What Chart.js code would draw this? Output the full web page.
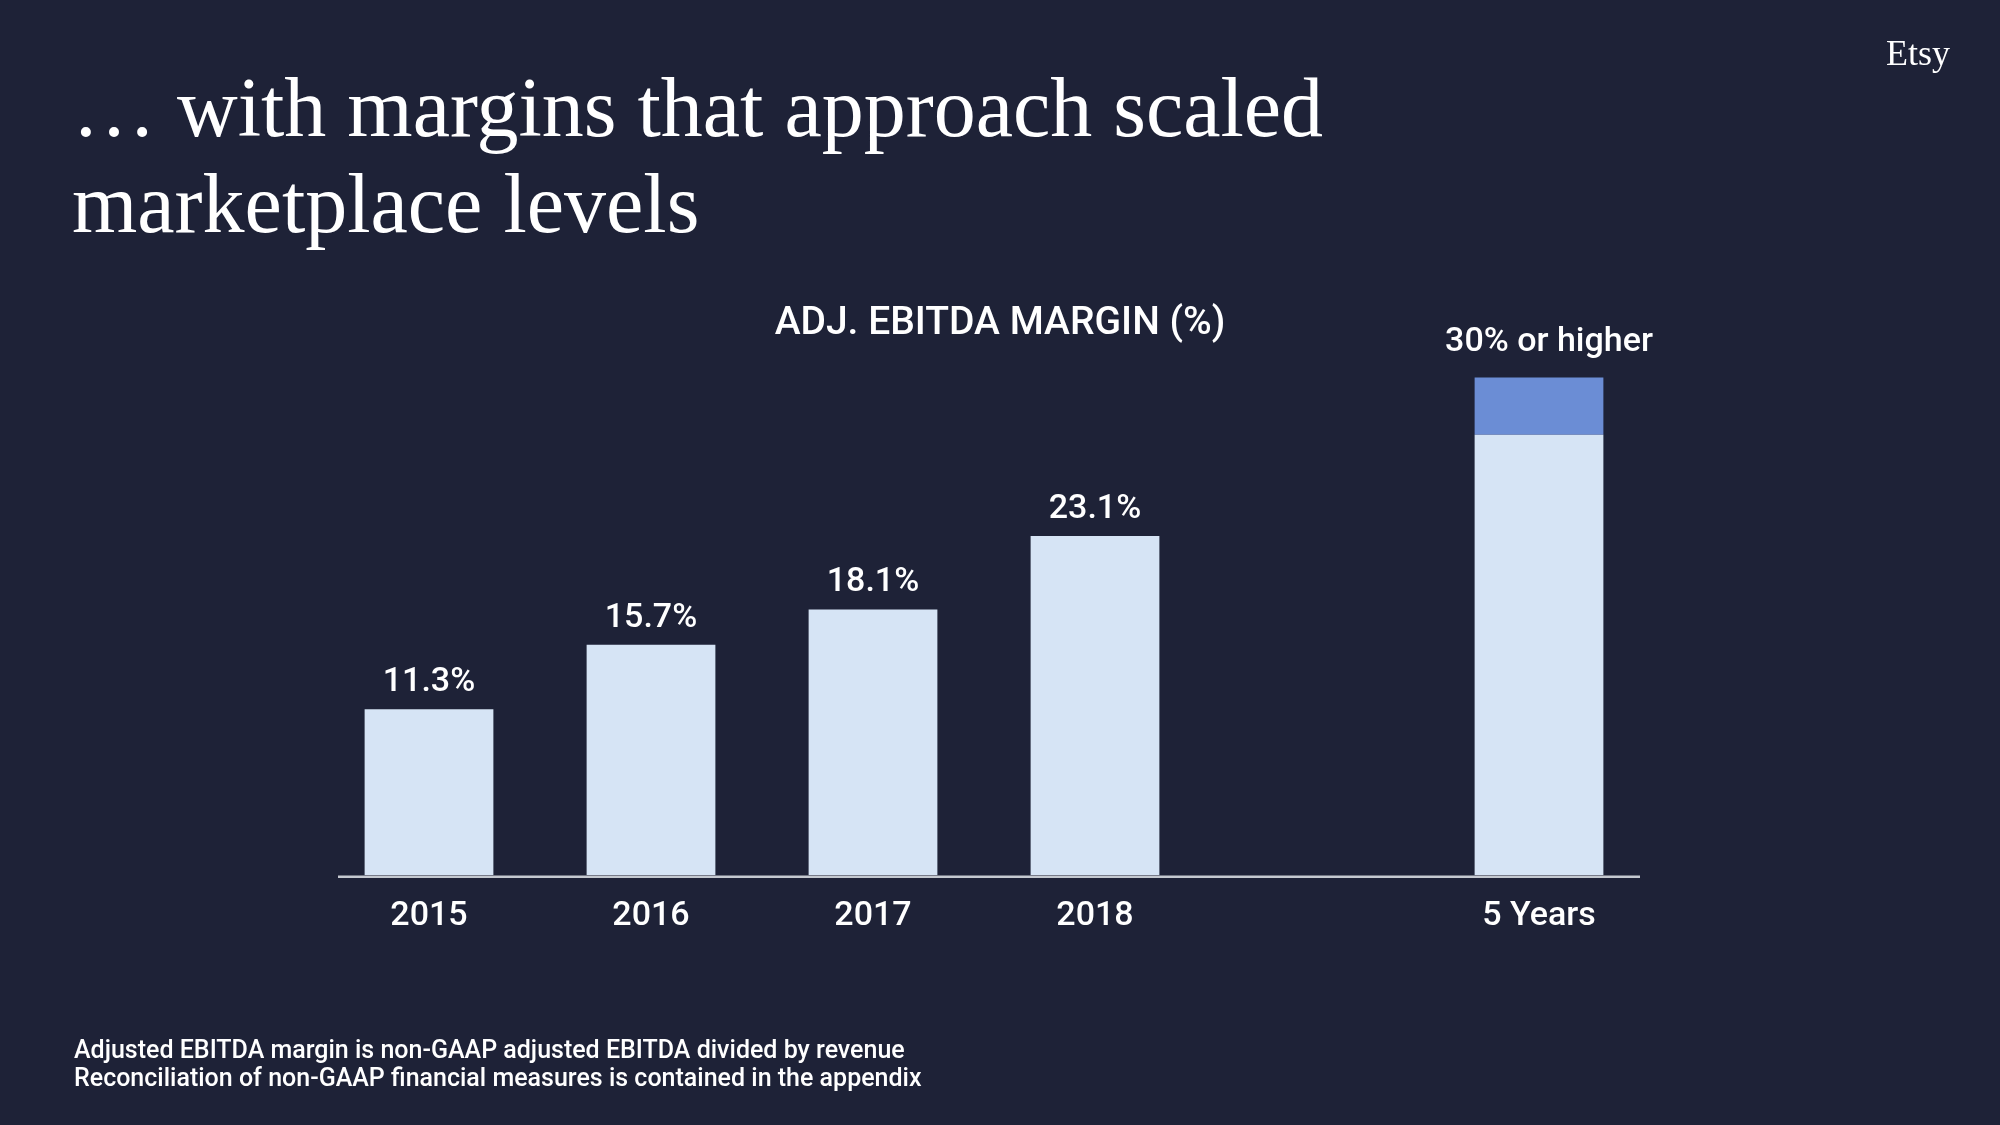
<!DOCTYPE html>
<html lang="en">
<head>
    <meta charset="UTF-8">
    <title>Adj. EBITDA Margin</title>
    <script src="https://cdn.jsdelivr.net/npm/chart.js"></script>
    <style>
        html, body {
            margin: 0;
            padding: 0;
            width: 2000px;
            height: 1125px;
            overflow: hidden;
            background-color: #1e2237;
            font-family: Roboto, Arial, sans-serif;
            color: #ffffff;
        }

        .headline {
            position: absolute;
            left: 72px;
            top: 60px;
            font-family: "Liberation Serif", serif;
            font-size: 84px;
            line-height: 96px;
            margin: 0;
            font-weight: normal;
        }

        .logo {
            position: absolute;
            right: 50px;
            top: 32px;
            font-family: "Liberation Serif", serif;
            font-size: 36px;
        }

        .chart-title {
            position: absolute;
            left: 0;
            width: 2000px;
            top: 298px;
            text-align: center;
            font-size: 39px;
            font-weight: 500;
        }

        .footnote {
            position: absolute;
            left: 74px;
            top: 1036px;
            font-size: 25px;
            line-height: 28px;
            font-weight: 500;
        }

        #chartBox {
            position: absolute;
            left: 0;
            top: 0;
            width: 2000px;
            height: 1125px;
        }
    </style>
</head>
<body>
    <div id="chartBox"><canvas id="marginChart"></canvas></div>

    <h1 class="headline">… with margins that approach scaled<br>marketplace levels</h1>
    <div class="logo">Etsy</div>
    <div class="chart-title">ADJ. EBITDA MARGIN (%)</div>
    <div class="footnote">
        Adjusted EBITDA margin is non-GAAP adjusted EBITDA divided by revenue<br>
        Reconciliation of non-GAAP financial measures is contained in the appendix
    </div>

    <script>
        // 데이터
        const categories = ['2015', '2016', '2017', '2018', '', '5 Years'];
        const marginValues = [11.3, 15.7, 18.1, 23.1, null, 30];
        const upsideValues = [null, null, null, null, null, 3.9];
        const valueLabels = ['11.3%', '15.7%', '18.1%', '23.1%', '', '30% or higher'];

        // 막대 위 라벨
        const topLabels = {
            id: 'topLabels',
            afterDatasetsDraw(chart) {
                const ctx = chart.ctx;
                ctx.save();
                ctx.fillStyle = '#ffffff';
                ctx.textAlign = 'center';
                ctx.textBaseline = 'alphabetic';
                categories.forEach((cat, i) => {
                    if (!valueLabels[i]) return;
                    const last = upsideValues[i] != null ? 1 : 0;
                    const bar = chart.getDatasetMeta(last).data[i];
                    ctx.font = '500 34px Roboto';
                    if (last) {
                        ctx.fillText(valueLabels[i], bar.x + 10, bar.y - 27);
                    } else {
                        ctx.fillText(valueLabels[i], bar.x, bar.y - 18);
                    }
                });
                ctx.restore();
            }
        };

        // x축 기준선
        const baseLine = {
            id: 'baseLine',
            afterDatasetsDraw(chart) {
                const { ctx, chartArea } = chart;
                ctx.save();
                ctx.strokeStyle = '#c5c9d0';
                ctx.lineWidth = 2.5;
                ctx.beginPath();
                ctx.moveTo(chartArea.left + 20, chartArea.bottom + 1.5);
                ctx.lineTo(chartArea.right - 10, chartArea.bottom + 1.5);
                ctx.stroke();
                ctx.restore();
            }
        };

        const ctx = document.getElementById('marginChart').getContext('2d');
        new Chart(ctx, {
            type: 'bar',
            data: {
                labels: categories,
                datasets: [{
                    label: 'Adj. EBITDA margin',
                    data: marginValues,
                    backgroundColor: '#d6e4f5',
                    borderWidth: 0
                }, {
                    label: 'Upside',
                    data: upsideValues,
                    backgroundColor: '#6b8dd5',
                    borderWidth: 0
                }]
            },
            options: {
                responsive: true,
                maintainAspectRatio: false,
                animation: false,
                layout: {
                    padding: { left: 318, right: 350, top: 288, bottom: 175 }
                },
                plugins: {
                    legend: { display: false },
                    tooltip: { enabled: false }
                },
                datasets: {
                    bar: { categoryPercentage: 1, barPercentage: 0.58 }
                },
                scales: {
                    x: {
                        stacked: true,
                        grid: { display: false },
                        border: { display: false },
                        ticks: {
                            color: '#ffffff',
                            font: { family: 'Roboto', size: 34, weight: '500' },
                            padding: 13
                        }
                    },
                    y: {
                        stacked: true,
                        display: false,
                        min: 0,
                        max: 40
                    }
                }
            },
            plugins: [topLabels, baseLine]
        });
    </script>
</body>
</html>
